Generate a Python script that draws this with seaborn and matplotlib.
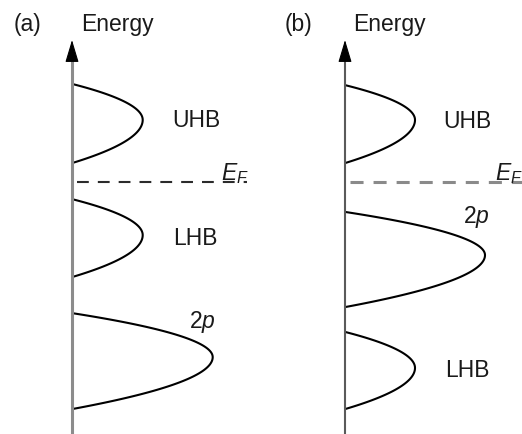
import numpy as np
import pandas as pd
import matplotlib
matplotlib.use("Agg")
import matplotlib.pyplot as plt
import seaborn as sns

# ---- data (energy in arbitrary units, E_F = 0; DOS in arbitrary units) ----
panel_labels = ["(a)", "(b)"]
axis_title = "Energy"

bands_a = ["UHB", "LHB", "2p"]
top_a = [2.44, -0.44, -3.29]        # upper band edge
peak_e_a = [1.54, -1.34, -4.39]     # energy of DOS maximum
bottom_a = [0.46, -2.39, -5.69]     # lower band edge
height_a = [1.01, 1.01, 2.01]       # DOS maximum

bands_b = ["UHB", "2p", "LHB"]
top_b = [2.41, -0.76, -3.76]
peak_e_b = [1.54, -1.84, -4.66]
bottom_b = [0.46, -3.14, -5.69]
height_b = [1.0, 2.0, 1.0]

fermi_level = [0.0, -0.01]
fermi_label = r"$E_F$"
band_text = {"UHB": "UHB", "LHB": "LHB", "2p": r"2$p$"}

# ---- style ----
sns.set_theme(style="white")
plt.rcParams["font.family"] = ["Liberation Sans", "DejaVu Sans"]
plt.rcParams["mathtext.fontset"] = "custom"
plt.rcParams["mathtext.rm"] = "Liberation Sans"
plt.rcParams["mathtext.it"] = "Liberation Sans:italic"
plt.rcParams["lines.scale_dashes"] = False

FS = 16.5
TXT = "#1a1a1a"


def band_curve(name, top, pk, bot, h, n=120):
    e = np.linspace(bot, top, n)
    t = np.where(e >= pk, (e - pk) / (top - pk), (pk - e) / (pk - bot))
    return pd.DataFrame({"band": name, "E": e, "DOS": h * (1 - t ** 2)})


def build(bands, tops, pks, bots, hs):
    return pd.concat([band_curve(*args) for args in zip(bands, tops, pks, bots, hs)],
                     ignore_index=True)


df_a = build(bands_a, top_a, peak_e_a, bottom_a, height_a)
df_b = build(bands_b, top_b, peak_e_b, bottom_b, height_b)

W, H = 522, 434
fig = plt.figure(figsize=(W / 100, H / 100), dpi=100)

# pixel scales: 70 px per DOS unit, 40 px per energy unit, E_F line at y=181.5 px
px_x, px_e, y_ef = 70.0, 40.0, 181.5
ylim = ((y_ef - H) / px_e, y_ef / px_e)

panel_specs = [
    dict(rect=[0, 0, 0.5, 1], left_px=0, axis_px=72, df=df_a, bands=bands_a,
         shaft_color="#8c8c8c", shaft_lw=2.2,
         dash_color="#2b2b2b", dash_lw=1.5, dash_end=2.5, dash_pat=(8.5, 6.5),
         label_pos={"UHB": (1.78, 1.36), "LHB": (1.76, -1.59), "2p": (1.86, -3.66)},
         ef_pos=(2.13, 0.04), plabel_x=-0.64, title_x=0.65),
    dict(rect=[0.5, 0, 0.5, 1], left_px=261, axis_px=345, df=df_b, bands=bands_b,
         shaft_color="#5a5a5a", shaft_lw=1.5,
         dash_color="#8a8a8a", dash_lw=2.2, dash_end=2.7, dash_pat=(9.4, 7.2),
         label_pos={"UHB": (1.75, 1.34), "LHB": (1.75, -4.89), "2p": (1.87, -1.04)},
         ef_pos=(2.14, 0.04), plabel_x=-0.66, title_x=0.64),
]

for i, sp in enumerate(panel_specs):
    ax = fig.add_axes(sp["rect"])
    x0 = -(sp["axis_px"] - sp["left_px"]) / px_x
    x1 = x0 + (W / 2) / px_x
    ax.set_xlim(x0, x1)
    ax.set_ylim(*ylim)
    ax.axis("off")

    # density-of-states curves
    sns.lineplot(data=sp["df"], x="DOS", y="E", units="band", estimator=None,
                 sort=False, color="black", lw=1.5, ax=ax, legend=False)

    # Fermi level
    ef = fermi_level[i]
    ax.plot([0.07, sp["dash_end"]], [ef, ef], color=sp["dash_color"], lw=sp["dash_lw"],
            linestyle=(0, sp["dash_pat"]), clip_on=False, zorder=2)

    # energy axis with arrow
    tip = (y_ef - 40) / px_e
    base = tip - 0.45
    ax.plot([0, 0], [ylim[0] - 0.2, base + 0.05], color=sp["shaft_color"],
            lw=sp["shaft_lw"], solid_capstyle="butt", zorder=3, clip_on=False)
    ax.annotate("", xy=(0, tip), xytext=(0, base),
                arrowprops=dict(arrowstyle="-|>,head_length=1.4,head_width=0.42",
                                mutation_scale=10, color="black", lw=0.8,
                                shrinkA=0, shrinkB=0), zorder=4)

    # labels
    for b in sp["bands"]:
        lx, ly = sp["label_pos"][b]
        ax.text(lx, ly, band_text[b], ha="center", va="baseline", fontsize=FS, color=TXT)
    ax.text(*sp["ef_pos"], fermi_label, ha="left", va="baseline", fontsize=FS,
            color=TXT, clip_on=False)
    title_y = (y_ef - 31) / px_e
    ax.text(sp["plabel_x"], title_y, panel_labels[i], ha="center", va="baseline",
            fontsize=FS, color=TXT)
    ax.text(sp["title_x"], title_y, axis_title, ha="center", va="baseline",
            fontsize=FS, color=TXT)

fig.savefig("out.png", dpi=100)
